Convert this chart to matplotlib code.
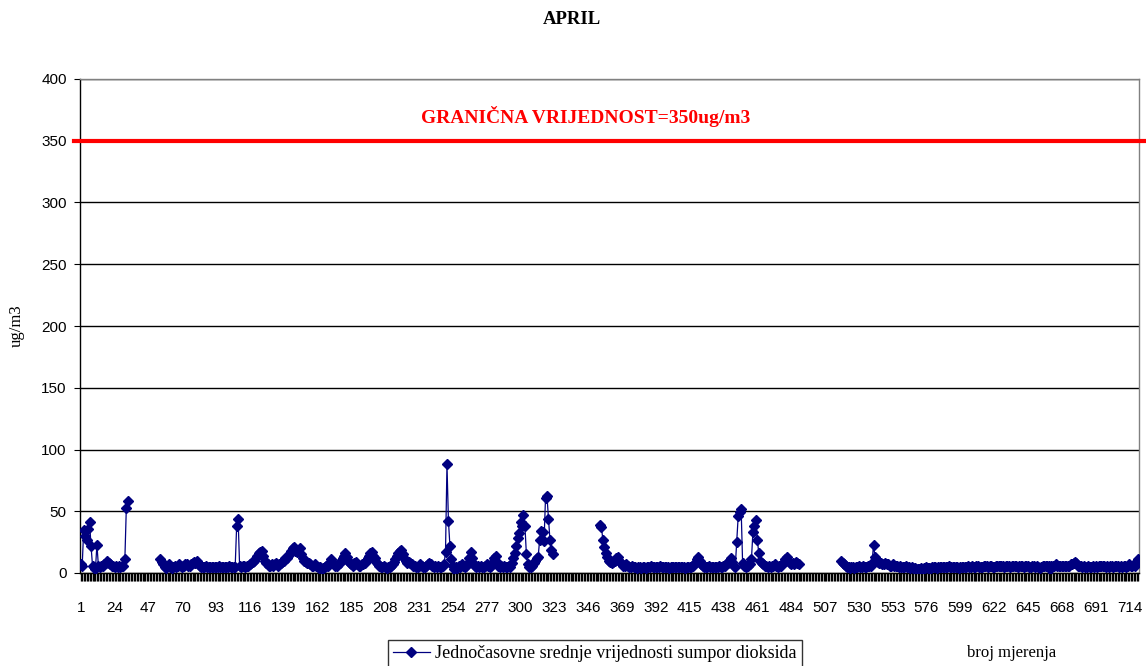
import numpy as np
import matplotlib
matplotlib.use("Agg")
import matplotlib.pyplot as plt
from matplotlib.lines import Line2D
import matplotlib.transforms as mtransforms

N = None
# hourly values (ug/m3), one list per day of April
day01 = [7, 6, 35, 30, 27, 36, 41, 22, 6, 5, 3, 23, 6, 5, 6, 6, 7, 8, 10, 8, 7, 6, 6, 5]
day02 = [6, 5, 6, 5, 6, 6, 11, 53, 58, N, N, N, N, N, N, N, N, N, N, N, N, N, N, N]
day03 = [N, N, N, N, N, N, 11, 9, 7, 5, 4, 6, 7, 5, 4, 5, 6, 5, 6, 7, 6, 5, 6, 7]
day04 = [7, 6, 6, 7, 8, 9, 8, 10, 8, 6, 5, 5, 5, 6, 5, 5, 5, 5, 5, 5, 5, 5, 6, 5]
day05 = [5, 5, 5, 5, 5, 6, 5, 5, 5, 5, 38, 44, 6, 5, 6, 6, 5, 6, 6, 7, 8, 9, 10, 12]
day06 = [14, 16, 17, 18, 14, 10, 8, 7, 6, 6, 7, 6, 7, 8, 6, 7, 8, 9, 10, 12, 12, 14, 16, 18]
day07 = [20, 21, 18, 17, 19, 20, 15, 12, 10, 9, 8, 8, 7, 6, 6, 7, 6, 5, 4, 5, 3, 4, 5, 6]
day08 = [6, 8, 11, 9, 7, 6, 6, 7, 8, 10, 12, 14, 16, 13, 10, 8, 7, 6, 8, 9, 7, 6, 6, 7]
day09 = [7, 8, 10, 12, 14, 16, 17, 14, 12, 9, 7, 6, 5, 5, 6, 5, 4, 5, 5, 6, 7, 9, 11, 14]
day10 = [16, 18, 19, 15, 12, 10, 8, 9, 8, 7, 6, 6, 5, 5, 6, 7, 6, 5, 5, 6, 7, 8, 7, 6]
day11 = [5, 6, 5, 6, 5, 5, 6, 7, 17, 88, 42, 22, 11, 6, 3, 5, 4, 6, 5, 7, 6, 5, 6, 8]
day12 = [12, 17, 12, 8, 6, 5, 6, 5, 6, 5, 5, 6, 7, 6, 5, 6, 9, 12, 14, 9, 6, 5, 6, 5]
day13 = [6, 5, 5, 6, 5, 8, 12, 16, 22, 28, 32, 41, 38, 47, 38, 15, 7, 5, 5, 6, 8, 10, 12, 13]
day14 = [27, 34, 33, 26, 61, 62, 44, 27, 19, 15, N, N, N, N, N, N, N, N, N, N, N, N, N, N]
day15 = [N, N, N, N, N, N, N, N, N, N, N, N, N, N, N, N, N, 39, 37, 27, 21, 16, 13, 10]
day16 = [9, 8, 9, 10, 12, 13, 10, 8, 7, 6, 6, 7, 6, 5, 5, 6, 5, 5, 4, 5, 5, 4, 5, 5]
day17 = [4, 5, 5, 5, 6, 5, 5, 5, 5, 5, 6, 5, 5, 5, 5, 5, 4, 5, 5, 5, 5, 5, 5, 5]
day18 = [5, 5, 5, 4, 5, 5, 5, 5, 6, 7, 9, 11, 13, 10, 7, 6, 5, 5, 5, 6, 5, 5, 5, 5]
day19 = [5, 5, 6, 5, 5, 6, 6, 7, 8, 10, 12, 9, 6, 5, 25, 46, 49, 52, 8, 6, 5, 6, 6, 7]
day20 = [11, 33, 38, 43, 27, 16, 10, 8, 7, 6, 6, 5, 6, 5, 6, 6, 7, 6, 5, 6, 6, 7, 9, 11]
day21 = [13, 10, 8, 7, 8, 7, 9, 8, 7, N, N, N, N, N, N, N, N, N, N, N, N, N, N, N]
day22 = [N, N, N, N, N, N, N, N, N, N, N, N, N, 10, 8, 7, 6, 5, 5, 4, 5, 5, 4, 5]
day23 = [5, 6, 5, 5, 6, 5, 5, 6, 6, 6, 8, 23, 13, 11, 9, 8, 8, 7, 7, 8, 7, 7, 6, 6]
day24 = [7, 6, 6, 6, 5, 6, 5, 5, 5, 6, 5, 5, 4, 5, 4, 4, 3, 3, 3, 4, 3, 4, 4, 5]
day25 = [4, 4, 4, 5, 5, 5, 4, 5, 5, 5, 5, 5, 5, 5, 6, 5, 5, 5, 5, 5, 5, 4, 5, 5]
day26 = [5, 5, 5, 6, 5, 5, 6, 5, 5, 6, 6, 5, 5, 5, 6, 6, 6, 5, 6, 6, 5, 5, 6, 6]
day27 = [6, 6, 6, 6, 5, 6, 6, 6, 5, 6, 6, 6, 6, 5, 6, 6, 6, 5, 6, 6, 6, 5, 5, 6]
day28 = [6, 5, 6, 5, 4, 5, 6, 6, 6, 6, 6, 3, 6, 6, 6, 7, 6, 6, 6, 6, 6, 6, 6, 6]
day29 = [6, 7, 7, 8, 9, 8, 6, 6, 6, 5, 6, 5, 5, 6, 5, 5, 6, 5, 6, 5, 6, 6, 6, 6]
day30 = [6, 5, 6, 5, 6, 6, 5, 6, 6, 6, 5, 6, 5, 6, 6, 5, 6, 7, 6, 6, 7, 6, 8, 11]

days = [day01, day02, day03, day04, day05, day06, day07, day08, day09, day10,
        day11, day12, day13, day14, day15, day16, day17, day18, day19, day20,
        day21, day22, day23, day24, day25, day26, day27, day28, day29, day30]

limit_value = 350
y_ticks = [0, 50, 100, 150, 200, 250, 300, 350, 400]
label_step = 23

values = np.array([v for d in days for v in d], dtype=float)
cats = np.arange(1, len(values) + 1)

serif = ["Liberation Serif", "DejaVu Serif"]
sans = ["Liberation Sans", "DejaVu Sans"]

fig = plt.figure(figsize=(11.46, 6.66), dpi=100)
ax = fig.add_axes([80 / 1146, 93 / 666, 1059 / 1146, 494 / 666])

ax.set_xlim(0.5, len(values) + 0.5)
ax.set_ylim(0, 400)
ax.set_yticks(y_ticks)
ax.yaxis.grid(True, color="black", lw=1.0)
ax.set_axisbelow(True)

ax.plot(cats, values, color="#000080", lw=0.9, marker="D", ms=5,
        mfc="#000080", mec="#000080", zorder=3)

trans = mtransforms.blended_transform_factory(ax.transAxes, ax.transData)
ax.plot([-0.006, 1.01], [limit_value, limit_value], color="#ff0000", lw=3,
        transform=trans, clip_on=False, zorder=4)
ax.text(506 / 1059, 370, "GRANIČNA VRIJEDNOST=350ug/m3", transform=trans,
        color="#ff0000", ha="center", va="center", family=serif,
        fontsize=14, fontweight="bold")

ax.set_xticks(cats)
ax.set_xticklabels([str(c) if (c - 1) % label_step == 0 else "" for c in cats],
                   family=sans, fontsize=11)
ax.tick_params(axis="x", length=6, width=1.0, color="black", pad=14)
ax.tick_params(axis="y", length=4.5, width=0.8, pad=5)
for lab in ax.get_yticklabels():
    lab.set_family(sans)
    lab.set_fontsize(11)

for s in ["left", "bottom"]:
    ax.spines[s].set_color("black")
    ax.spines[s].set_linewidth(1.0)
for s in ["top", "right"]:
    ax.spines[s].set_color("#808080")
    ax.spines[s].set_linewidth(1.0)

ax.set_ylabel("ug/m3", family=serif, fontsize=12, labelpad=12)

fig.text(572 / 1146, 1 - 20 / 666, "APRIL", ha="center", va="center",
         family=serif, fontsize=13.5, fontweight="bold")
fig.text(1012 / 1146, 1 - 653 / 666, "broj mjerenja", ha="center", va="center",
         family=serif, fontsize=12)

handle = Line2D([], [], color="#000080", lw=0.9, marker="D", ms=5,
                mfc="#000080", mec="#000080")
leg = fig.legend([handle], ["Jednočasovne srednje vrijednosti sumpor dioksida"],
                 loc="upper left", bbox_to_anchor=(388 / 1146, 1 - 640 / 666),
                 prop={"family": serif, "size": 13}, frameon=True,
                 fancybox=False, borderpad=0.3, handlelength=2.0,
                 handletextpad=0.3, borderaxespad=0)
leg.get_frame().set_edgecolor("black")
leg.get_frame().set_linewidth(1.0)

fig.savefig("out.png", dpi=100)
